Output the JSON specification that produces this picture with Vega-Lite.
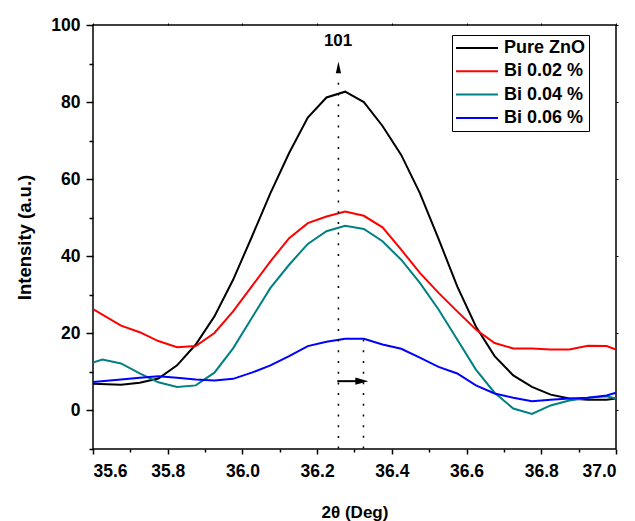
{
  "$schema": "https://vega.github.io/schema/vega-lite/v6.json",
  "autosize": "none",
  "padding": {"left": 93, "top": 25, "right": 19, "bottom": 72},
  "width": 523,
  "height": 424,
  "background": "white",
  "config": {
    "view": {"stroke": "black", "strokeWidth": 1.5},
    "font": "Liberation Sans",
    "axis": {"labelFont": "Liberation Sans", "titleFont": "Liberation Sans", "labelFontWeight": "bold", "titleFontWeight": "bold", "labelColor": "black", "titleColor": "black", "tickColor": "black", "domain": false, "grid": false}
  },
  "datasets": {
    "xrd": [
      {"series": "Pure ZnO", "x": 35.6, "y": 6.9},
      {"series": "Pure ZnO", "x": 35.675, "y": 6.7},
      {"series": "Pure ZnO", "x": 35.725, "y": 7.2},
      {"series": "Pure ZnO", "x": 35.775, "y": 8.3},
      {"series": "Pure ZnO", "x": 35.825, "y": 11.7},
      {"series": "Pure ZnO", "x": 35.875, "y": 17.1},
      {"series": "Pure ZnO", "x": 35.925, "y": 24.4},
      {"series": "Pure ZnO", "x": 35.975, "y": 33.9},
      {"series": "Pure ZnO", "x": 36.025, "y": 45.0},
      {"series": "Pure ZnO", "x": 36.075, "y": 56.4},
      {"series": "Pure ZnO", "x": 36.125, "y": 66.8},
      {"series": "Pure ZnO", "x": 36.175, "y": 76.0},
      {"series": "Pure ZnO", "x": 36.225, "y": 81.2},
      {"series": "Pure ZnO", "x": 36.275, "y": 82.7},
      {"series": "Pure ZnO", "x": 36.325, "y": 80.0},
      {"series": "Pure ZnO", "x": 36.375, "y": 73.8},
      {"series": "Pure ZnO", "x": 36.425, "y": 66.3},
      {"series": "Pure ZnO", "x": 36.475, "y": 56.4},
      {"series": "Pure ZnO", "x": 36.525, "y": 44.5},
      {"series": "Pure ZnO", "x": 36.575, "y": 32.2},
      {"series": "Pure ZnO", "x": 36.625, "y": 21.8},
      {"series": "Pure ZnO", "x": 36.675, "y": 14.1},
      {"series": "Pure ZnO", "x": 36.725, "y": 9.1},
      {"series": "Pure ZnO", "x": 36.775, "y": 6.1},
      {"series": "Pure ZnO", "x": 36.825, "y": 4.1},
      {"series": "Pure ZnO", "x": 36.875, "y": 3.1},
      {"series": "Pure ZnO", "x": 36.925, "y": 2.8},
      {"series": "Pure ZnO", "x": 36.975, "y": 2.8},
      {"series": "Pure ZnO", "x": 37.0, "y": 3.1},
      {"series": "Bi 0.02 %", "x": 35.6, "y": 26.3},
      {"series": "Bi 0.02 %", "x": 35.675, "y": 22.0},
      {"series": "Bi 0.02 %", "x": 35.725, "y": 20.3},
      {"series": "Bi 0.02 %", "x": 35.775, "y": 18.0},
      {"series": "Bi 0.02 %", "x": 35.825, "y": 16.4},
      {"series": "Bi 0.02 %", "x": 35.875, "y": 16.7},
      {"series": "Bi 0.02 %", "x": 35.925, "y": 20.1},
      {"series": "Bi 0.02 %", "x": 35.975, "y": 25.7},
      {"series": "Bi 0.02 %", "x": 36.025, "y": 32.2},
      {"series": "Bi 0.02 %", "x": 36.075, "y": 38.7},
      {"series": "Bi 0.02 %", "x": 36.125, "y": 44.7},
      {"series": "Bi 0.02 %", "x": 36.175, "y": 48.6},
      {"series": "Bi 0.02 %", "x": 36.225, "y": 50.3},
      {"series": "Bi 0.02 %", "x": 36.275, "y": 51.6},
      {"series": "Bi 0.02 %", "x": 36.325, "y": 50.5},
      {"series": "Bi 0.02 %", "x": 36.375, "y": 47.5},
      {"series": "Bi 0.02 %", "x": 36.425, "y": 41.7},
      {"series": "Bi 0.02 %", "x": 36.475, "y": 35.7},
      {"series": "Bi 0.02 %", "x": 36.525, "y": 30.5},
      {"series": "Bi 0.02 %", "x": 36.575, "y": 25.7},
      {"series": "Bi 0.02 %", "x": 36.625, "y": 21.0},
      {"series": "Bi 0.02 %", "x": 36.675, "y": 17.5},
      {"series": "Bi 0.02 %", "x": 36.725, "y": 16.1},
      {"series": "Bi 0.02 %", "x": 36.775, "y": 16.1},
      {"series": "Bi 0.02 %", "x": 36.825, "y": 15.8},
      {"series": "Bi 0.02 %", "x": 36.875, "y": 15.8},
      {"series": "Bi 0.02 %", "x": 36.925, "y": 16.8},
      {"series": "Bi 0.02 %", "x": 36.975, "y": 16.7},
      {"series": "Bi 0.02 %", "x": 37.0, "y": 15.8},
      {"series": "Bi 0.04 %", "x": 35.6, "y": 12.4},
      {"series": "Bi 0.04 %", "x": 35.625, "y": 13.2},
      {"series": "Bi 0.04 %", "x": 35.675, "y": 12.2},
      {"series": "Bi 0.04 %", "x": 35.725, "y": 9.6},
      {"series": "Bi 0.04 %", "x": 35.775, "y": 7.3},
      {"series": "Bi 0.04 %", "x": 35.825, "y": 6.1},
      {"series": "Bi 0.04 %", "x": 35.875, "y": 6.5},
      {"series": "Bi 0.04 %", "x": 35.925, "y": 9.8},
      {"series": "Bi 0.04 %", "x": 35.975, "y": 16.1},
      {"series": "Bi 0.04 %", "x": 36.025, "y": 24.0},
      {"series": "Bi 0.04 %", "x": 36.075, "y": 31.8},
      {"series": "Bi 0.04 %", "x": 36.125, "y": 37.8},
      {"series": "Bi 0.04 %", "x": 36.175, "y": 43.2},
      {"series": "Bi 0.04 %", "x": 36.225, "y": 46.5},
      {"series": "Bi 0.04 %", "x": 36.275, "y": 47.9},
      {"series": "Bi 0.04 %", "x": 36.325, "y": 47.1},
      {"series": "Bi 0.04 %", "x": 36.375, "y": 43.9},
      {"series": "Bi 0.04 %", "x": 36.425, "y": 39.1},
      {"series": "Bi 0.04 %", "x": 36.475, "y": 33.1},
      {"series": "Bi 0.04 %", "x": 36.525, "y": 26.2},
      {"series": "Bi 0.04 %", "x": 36.575, "y": 18.4},
      {"series": "Bi 0.04 %", "x": 36.625, "y": 10.6},
      {"series": "Bi 0.04 %", "x": 36.675, "y": 4.6},
      {"series": "Bi 0.04 %", "x": 36.725, "y": 0.5},
      {"series": "Bi 0.04 %", "x": 36.775, "y": -0.9},
      {"series": "Bi 0.04 %", "x": 36.825, "y": 1.3},
      {"series": "Bi 0.04 %", "x": 36.875, "y": 2.6},
      {"series": "Bi 0.04 %", "x": 36.925, "y": 3.3},
      {"series": "Bi 0.04 %", "x": 36.975, "y": 3.7},
      {"series": "Bi 0.04 %", "x": 37.0, "y": 3.1},
      {"series": "Bi 0.06 %", "x": 35.6, "y": 7.4},
      {"series": "Bi 0.06 %", "x": 35.675, "y": 8.0},
      {"series": "Bi 0.06 %", "x": 35.725, "y": 8.5},
      {"series": "Bi 0.06 %", "x": 35.775, "y": 8.9},
      {"series": "Bi 0.06 %", "x": 35.825, "y": 8.5},
      {"series": "Bi 0.06 %", "x": 35.875, "y": 8.0},
      {"series": "Bi 0.06 %", "x": 35.925, "y": 7.8},
      {"series": "Bi 0.06 %", "x": 35.975, "y": 8.2},
      {"series": "Bi 0.06 %", "x": 36.025, "y": 9.8},
      {"series": "Bi 0.06 %", "x": 36.075, "y": 11.7},
      {"series": "Bi 0.06 %", "x": 36.125, "y": 14.1},
      {"series": "Bi 0.06 %", "x": 36.175, "y": 16.7},
      {"series": "Bi 0.06 %", "x": 36.225, "y": 17.8},
      {"series": "Bi 0.06 %", "x": 36.275, "y": 18.6},
      {"series": "Bi 0.06 %", "x": 36.325, "y": 18.6},
      {"series": "Bi 0.06 %", "x": 36.375, "y": 17.1},
      {"series": "Bi 0.06 %", "x": 36.425, "y": 16.0},
      {"series": "Bi 0.06 %", "x": 36.475, "y": 13.7},
      {"series": "Bi 0.06 %", "x": 36.525, "y": 11.3},
      {"series": "Bi 0.06 %", "x": 36.575, "y": 9.6},
      {"series": "Bi 0.06 %", "x": 36.625, "y": 6.5},
      {"series": "Bi 0.06 %", "x": 36.675, "y": 4.4},
      {"series": "Bi 0.06 %", "x": 36.725, "y": 3.3},
      {"series": "Bi 0.06 %", "x": 36.775, "y": 2.4},
      {"series": "Bi 0.06 %", "x": 36.825, "y": 2.8},
      {"series": "Bi 0.06 %", "x": 36.875, "y": 3.1},
      {"series": "Bi 0.06 %", "x": 36.925, "y": 3.3},
      {"series": "Bi 0.06 %", "x": 36.975, "y": 3.9},
      {"series": "Bi 0.06 %", "x": 37.0, "y": 4.6}
    ],
    "dotted": [
      {"x": 36.257, "y": 85, "y2": -10},
      {"x": 36.324, "y": 18.4, "y2": -10}
    ],
    "shaft": [{"x": 36.254, "x2": 36.312, "y": 7.6}],
    "headUp": [{"x": 36.257, "y": 89.0}],
    "headRight": [{"x": 36.3196, "y": 7.6}],
    "label": [{"x": 36.256, "y": 95.9, "text": "101"}]
  },
  "resolve": {"axis": {"x": "independent", "y": "independent"}},
  "layer": [
    {
      "data": {"name": "xrd"},
      "mark": {"type": "line", "strokeWidth": 2, "clip": true},
      "encoding": {
        "x": {"field": "x", "type": "quantitative",
              "scale": {"domain": [35.6, 37.0], "nice": false, "zero": false},
              "axis": {"orient": "bottom", "values": [35.6, 35.8, 36.0, 36.2, 36.4, 36.6, 36.8, 37.0], "format": ".1f", "tickSize": 5, "tickWidth": 1.5, "labelPadding": 8, "labelFontSize": 17.5, "title": "2θ (Deg)", "titleFontSize": 17, "titlePadding": 25}},
        "y": {"field": "y", "type": "quantitative",
              "scale": {"domain": [-10, 100], "nice": false, "zero": false},
              "axis": {"orient": "left", "values": [0, 20, 40, 60, 80, 100], "tickSize": 7, "tickWidth": 1.5, "labelPadding": 6, "labelFontSize": 17.5, "title": "Intensity (a.u.)", "titleFontSize": 18.5, "titlePadding": 16}},
        "color": {"field": "series", "type": "nominal",
                  "scale": {"domain": ["Pure ZnO", "Bi 0.02 %", "Bi 0.04 %", "Bi 0.06 %"], "range": ["#000000", "#ff0000", "#008080", "#0000ff"]},
                  "legend": {"title": null, "orient": "none", "legendX": 359, "legendY": 10, "symbolType": "stroke", "symbolSize": 1764, "symbolStrokeWidth": 2, "clipHeight": 20, "rowPadding": 3.3, "padding": 3, "labelOffset": 5, "labelFont": "Liberation Sans", "labelFontWeight": "bold", "labelFontSize": 18, "labelColor": "black", "strokeColor": "black", "fillColor": "white", "cornerRadius": 0}}
      }
    },
    {
      "data": {"name": "dotted"},
      "mark": {"type": "rule", "color": "black", "strokeWidth": 1.5, "strokeDash": [2, 8.7]},
      "encoding": {
        "x": {"field": "x", "type": "quantitative",
              "axis": {"orient": "bottom", "values": [35.7, 35.9, 36.1, 36.3, 36.5, 36.7, 36.9], "tickSize": 3, "tickWidth": 1.5, "labels": false, "title": null}},
        "y": {"field": "y", "type": "quantitative",
              "axis": {"orient": "left", "values": [-10, 10, 30, 50, 70, 90], "tickSize": 4, "tickWidth": 1.5, "labels": false, "title": null}},
        "y2": {"field": "y2"}
      }
    },
    {
      "data": {"name": "shaft"},
      "mark": {"type": "rule", "color": "black", "strokeWidth": 2},
      "encoding": {
        "x": {"field": "x", "type": "quantitative",
              "axis": {"orient": "top", "values": [35.6, 35.8, 36.0, 36.2, 36.4, 36.6, 36.8, 37.0], "tickSize": 2, "tickWidth": 1, "labels": false, "title": null}},
        "x2": {"field": "x2"},
        "y": {"field": "y", "type": "quantitative",
              "axis": {"orient": "right", "values": [0, 20, 40, 60, 80, 100], "tickSize": 2, "tickWidth": 1, "labels": false, "title": null}}
      }
    },
    {
      "data": {"name": "headUp"},
      "mark": {"type": "point", "shape": "M-0.45,1L0,-1L0.45,1Z", "size": 135, "filled": true, "color": "black", "opacity": 1},
      "encoding": {
        "x": {"field": "x", "type": "quantitative", "axis": null},
        "y": {"field": "y", "type": "quantitative", "axis": null}
      }
    },
    {
      "data": {"name": "headRight"},
      "mark": {"type": "point", "shape": "M-1,-0.55L1,0L-1,0.55Z", "size": 169, "filled": true, "color": "black", "opacity": 1},
      "encoding": {
        "x": {"field": "x", "type": "quantitative", "axis": null},
        "y": {"field": "y", "type": "quantitative", "axis": null}
      }
    },
    {
      "data": {"name": "label"},
      "mark": {"type": "text", "font": "Liberation Sans", "fontWeight": "bold", "fontSize": 17, "color": "black", "baseline": "middle", "align": "center"},
      "encoding": {
        "x": {"field": "x", "type": "quantitative", "axis": null},
        "y": {"field": "y", "type": "quantitative", "axis": null},
        "text": {"field": "text"}
      }
    }
  ]
}
